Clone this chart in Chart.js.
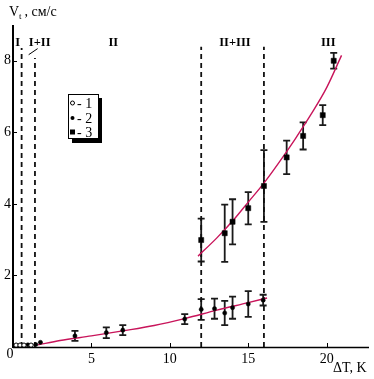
<!DOCTYPE html>
<html>
<head>
<meta charset="utf-8">
<script src="https://cdn.jsdelivr.net/npm/chart.js@4.4.0/dist/chart.umd.min.js"></script>
<style>
  html, body { margin: 0; padding: 0; background: #fff; }
  #wrap { width: 374px; height: 379px; }
</style>
</head>
<body>
<div id="wrap"><canvas id="vtChart" width="374" height="379"></canvas></div>
<script>
// series 1 (open circles, near zero)
const dt1 = [0.2, 0.45, 0.7, 1.15];
const v1 = [0.05, 0.05, 0.05, 0.05];
// series 2 (small filled circles)
const dt2 = [0.95, 1.45, 1.75, 3.95, 5.95, 7.0, 10.95, 12.0, 12.85, 13.5, 14.0, 15.0, 15.95];
const v2 = [0.06, 0.07, 0.13, 0.31, 0.40, 0.47, 0.78, 1.05, 1.07, 0.95, 1.10, 1.20, 1.31];
const err2 = [0, 0, 0, 0.14, 0.15, 0.14, 0.14, 0.29, 0.28, 0.34, 0.31, 0.36, 0.15];
// series 3 (squares)
const dt3 = [12.0, 13.5, 14.0, 15.0, 16.0, 17.45, 18.5, 19.75, 20.45];
const v3 = [2.99, 3.18, 3.50, 3.88, 4.50, 5.30, 5.90, 6.48, 8.00];
const err3 = [0.60, 0.80, 0.63, 0.45, 1.00, 0.47, 0.38, 0.28, 0.22];
// fitted curves
const fitLowX = [1.6, 3, 5, 7, 9, 11, 13, 15, 16.2];
const fitLowY = [0.06, 0.18, 0.31, 0.45, 0.60, 0.80, 1.03, 1.24, 1.37];
const fitHighX = [11.8, 13, 14, 15, 16, 17, 18, 19, 20, 20.95];
const fitHighY = [2.54, 3.05, 3.52, 4.05, 4.58, 5.18, 5.82, 6.50, 7.25, 8.15];
// regime boundaries (dashed lines)
const borderX = [0.55, 1.4, 12, 16];
const borderTop = [8.36, 8.08, 8.39, 8.39];
const regionNames = ['I', 'I+II', 'II', 'II+III', 'III'];
const regionX = [0.3, 1.7, 6.4, 14.15, 20.1];
const xTicks = [5, 10, 15, 20];
const yTicks = [2, 4, 6, 8];

const pts = (xs, ys) => xs.map((x, i) => ({ x: x, y: ys[i] }));

const datasets = [
  { data: pts(dt1, v1), showLine: false, pointStyle: 'circle', pointRadius: 2.2,
    pointBackgroundColor: '#fff', pointBorderColor: '#000', pointBorderWidth: 1 },
  { data: pts(dt2, v2), showLine: false, pointStyle: 'circle', pointRadius: 2.1,
    pointBackgroundColor: '#000', pointBorderColor: '#000', pointBorderWidth: 0.5 },
  { data: pts(dt3, v3), showLine: false, pointStyle: 'rect', pointRadius: 3.6,
    pointBackgroundColor: '#000', pointBorderColor: '#000', pointBorderWidth: 0.5 },
  { data: pts(fitLowX, fitLowY), borderColor: '#c8145a', borderWidth: 1.4,
    pointRadius: 0, cubicInterpolationMode: 'monotone' },
  { data: pts(fitHighX, fitHighY), borderColor: '#c8145a', borderWidth: 1.4,
    pointRadius: 0, cubicInterpolationMode: 'monotone' }
];
borderX.forEach((x, i) => {
  datasets.push({ data: [{ x: x, y: 0 }, { x: x, y: borderTop[i] }], borderColor: '#111',
    borderWidth: 1.8, borderDash: [5, 4], pointRadius: 0 });
});

const serif = '"Liberation Serif", "DejaVu Serif", serif';

const decor = {
  id: 'decor',
  beforeDatasetsDraw(chart) {
    const { ctx, scales: { x, y } } = chart;
    ctx.save();
    ctx.strokeStyle = '#1a1a1a';
    ctx.lineWidth = 1.8;
    const bars = (xs, ys, es) => xs.forEach((v, i) => {
      if (!es[i]) return;
      const px = x.getPixelForValue(v);
      const top = y.getPixelForValue(ys[i] + es[i]);
      const bot = y.getPixelForValue(ys[i] - es[i]);
      ctx.beginPath();
      ctx.moveTo(px, top); ctx.lineTo(px, bot);
      ctx.moveTo(px - 3.5, top); ctx.lineTo(px + 3.5, top);
      ctx.moveTo(px - 3.5, bot); ctx.lineTo(px + 3.5, bot);
      ctx.stroke();
    });
    bars(dt2, v2, err2);
    bars(dt3, v3, err3);
    ctx.restore();
  },
  afterDraw(chart) {
    const { ctx, chartArea: a, scales: { x, y } } = chart;
    ctx.save();
    ctx.fillStyle = '#000';
    ctx.strokeStyle = '#000';

    // axes
    ctx.lineWidth = 2;
    ctx.beginPath(); ctx.moveTo(a.left, a.top); ctx.lineTo(a.left, a.bottom + 1); ctx.stroke();
    ctx.lineWidth = 1.3;
    ctx.beginPath(); ctx.moveTo(a.left, a.bottom + 0.5); ctx.lineTo(a.right, a.bottom + 0.5); ctx.stroke();
    ctx.lineWidth = 1;
    xTicks.forEach(t => {
      const px = Math.round(x.getPixelForValue(t)) + 0.5;
      ctx.beginPath(); ctx.moveTo(px, a.bottom); ctx.lineTo(px, a.bottom - 4); ctx.stroke();
    });
    yTicks.forEach(t => {
      const py = Math.round(y.getPixelForValue(t)) + 0.5;
      ctx.beginPath(); ctx.moveTo(a.left, py); ctx.lineTo(a.left + 4, py); ctx.stroke();
    });

    // tick labels
    ctx.font = '14px ' + serif;
    ctx.textBaseline = 'middle';
    ctx.textAlign = 'center';
    xTicks.forEach(t => ctx.fillText(String(t), x.getPixelForValue(t), a.bottom + 12));
    ctx.fillText('0', a.left - 3, a.bottom + 7);
    ctx.textAlign = 'right';
    yTicks.forEach(t => ctx.fillText(String(t), a.left - 2, y.getPixelForValue(t)));

    // axis titles
    ctx.textAlign = 'left';
    ctx.textBaseline = 'alphabetic';
    ctx.fillText('V', 9, 16);
    ctx.font = '9px ' + serif;
    ctx.fillText('t', 19, 19);
    ctx.font = '14px ' + serif;
    ctx.fillText(' , см/с', 21, 16);
    ctx.fillText('ΔT, K', 333, 372);

    // regime labels
    ctx.font = 'bold 12.5px ' + serif;
    ctx.textAlign = 'center';
    ctx.textBaseline = 'middle';
    regionNames.forEach((n, i) => ctx.fillText(n, x.getPixelForValue(regionX[i]), y.getPixelForValue(8.5)));
    ctx.lineWidth = 1;
    ctx.beginPath();
    ctx.moveTo(x.getPixelForValue(1.0), y.getPixelForValue(8.17));
    ctx.lineTo(x.getPixelForValue(1.57), y.getPixelForValue(8.34));
    ctx.stroke();

    // legend box with shadow
    ctx.fillRect(72, 98, 30, 45);
    ctx.fillStyle = '#fff';
    ctx.fillRect(68, 94, 30, 44);
    ctx.strokeRect(68.5, 94.5, 30, 44);
    ctx.fillStyle = '#000';
    const rows = [103, 118, 132];
    ctx.beginPath(); ctx.arc(72.5, rows[0], 2, 0, Math.PI * 2); ctx.stroke();
    ctx.beginPath(); ctx.arc(72.5, rows[1], 2, 0, Math.PI * 2); ctx.fill();
    ctx.fillRect(70, rows[2] - 2.5, 5, 5);
    ctx.font = '14px ' + serif;
    ctx.textAlign = 'left';
    ctx.textBaseline = 'middle';
    ['- 1', '- 2', '- 3'].forEach((s, i) => ctx.fillText(s, 77, rows[i] + 1));
    ctx.restore();
  }
};

new Chart(document.getElementById('vtChart'), {
  type: 'line',
  data: { datasets: datasets },
  options: {
    responsive: false,
    animation: false,
    events: [],
    layout: { padding: { left: 13, top: 25, right: 0, bottom: 32 } },
    plugins: { legend: { display: false }, tooltip: { enabled: false } },
    scales: {
      x: { type: 'linear', min: 0, max: 22.7, display: false },
      y: { type: 'linear', min: 0, max: 9, display: false }
    }
  },
  plugins: [decor]
});
</script>
</body>
</html>
